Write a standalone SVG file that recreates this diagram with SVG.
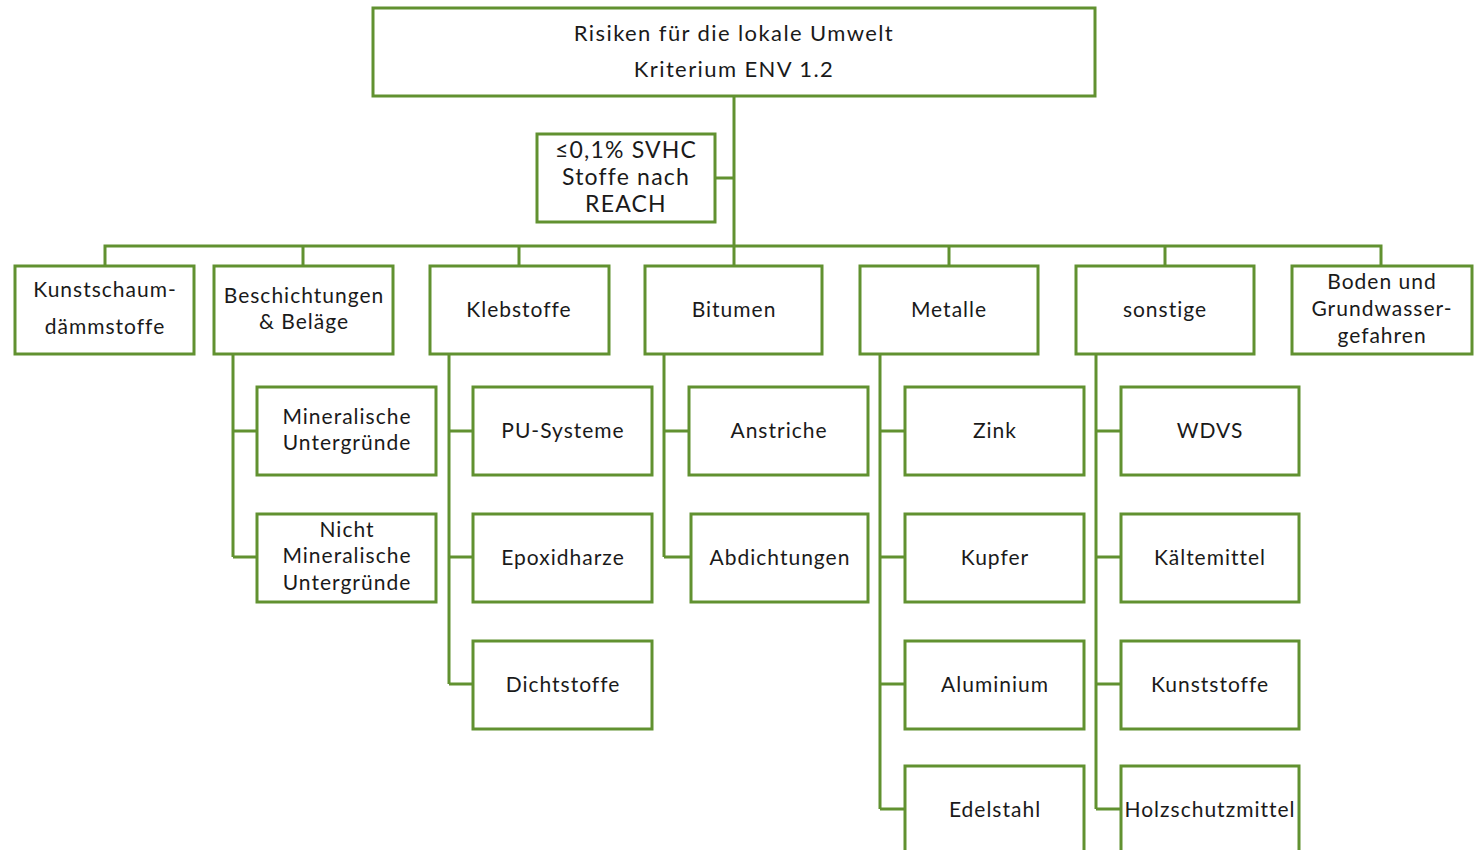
<svg xmlns="http://www.w3.org/2000/svg" width="1474" height="850" viewBox="0 0 1474 850">
<style>
.b{fill:#fff;stroke:#619130;stroke-width:3}
.c{fill:none;stroke:#619130;stroke-width:3}
text{font-family:Lato,"Liberation Sans",sans-serif;font-size:21px;letter-spacing:1px;fill:#1a1a1a;text-anchor:middle}
.t{font-size:22px;letter-spacing:1.4px}
.s{font-size:23px;letter-spacing:1.2px}
</style>
<rect width="1474" height="850" fill="#fff"/>
<g id="connectors">
<path class="c" d="M734 96V246M715 178H734M105 266V246H1381V266M303 246V266M519 246V266M734 246V266M949 246V266M1165 246V266"/>
<path class="c" d="M233 354V557M233 431H257M233 557H257"/>
<path class="c" d="M449 354V684M449 431H473M449 557H473M449 684H473"/>
<path class="c" d="M664 354V557M664 431H689M664 557H691"/>
<path class="c" d="M880 354V809M880 431H905M880 557H905M880 684H905M880 809H905"/>
<path class="c" d="M1096 354V809M1096 431H1121M1096 557H1121M1096 684H1121M1096 809H1121"/>
</g>
<g id="root"><rect class="b" x="373" y="8" width="722" height="88"/><text class="t" x="734" y="41">Risiken für die lokale Umwelt</text><text class="t" x="734" y="77">Kriterium ENV 1.2</text></g>
<g id="svhc"><rect class="b" x="537" y="134" width="178" height="88"/><text class="s" x="626" y="158">≤0,1% SVHC</text><text class="s" x="626" y="185">Stoffe nach</text><text class="s" x="626" y="212">REACH</text></g>
<g id="kunstschaum"><rect class="b" x="15" y="266" width="179" height="88"/><text x="105" y="297">Kunstschaum-</text><text x="105" y="334">dämmstoffe</text></g>
<g id="beschichtungen"><rect class="b" x="214" y="266" width="179" height="88"/><text x="304" y="303">Beschichtungen</text><text x="304" y="329">&amp; Beläge</text></g>
<g id="klebstoffe"><rect class="b" x="430" y="266" width="179" height="88"/><text x="519" y="317">Klebstoffe</text></g>
<g id="bitumen"><rect class="b" x="645" y="266" width="177" height="88"/><text x="734" y="317">Bitumen</text></g>
<g id="metalle"><rect class="b" x="860" y="266" width="178" height="88"/><text x="949" y="317">Metalle</text></g>
<g id="sonstige"><rect class="b" x="1076" y="266" width="178" height="88"/><text x="1165" y="317">sonstige</text></g>
<g id="boden"><rect class="b" x="1292" y="266" width="180" height="88"/><text x="1382" y="289">Boden und</text><text x="1382" y="316">Grundwasser-</text><text x="1382" y="343">gefahren</text></g>
<g id="mineralische"><rect class="b" x="257" y="387" width="179" height="88"/><text x="347" y="424">Mineralische</text><text x="347" y="450">Untergründe</text></g>
<g id="nichtmineralische"><rect class="b" x="257" y="514" width="179" height="88"/><text x="347" y="537">Nicht</text><text x="347" y="563">Mineralische</text><text x="347" y="590">Untergründe</text></g>
<g id="pu"><rect class="b" x="473" y="387" width="179" height="88"/><text x="563" y="438">PU-Systeme</text></g>
<g id="epoxid"><rect class="b" x="473" y="514" width="179" height="88"/><text x="563" y="565">Epoxidharze</text></g>
<g id="dicht"><rect class="b" x="473" y="641" width="179" height="88"/><text x="563" y="692">Dichtstoffe</text></g>
<g id="anstriche"><rect class="b" x="689" y="387" width="179" height="88"/><text x="779" y="438">Anstriche</text></g>
<g id="abdichtungen"><rect class="b" x="691" y="514" width="177" height="88"/><text x="780" y="565">Abdichtungen</text></g>
<g id="zink"><rect class="b" x="905" y="387" width="179" height="88"/><text x="995" y="438">Zink</text></g>
<g id="kupfer"><rect class="b" x="905" y="514" width="179" height="88"/><text x="995" y="565">Kupfer</text></g>
<g id="aluminium"><rect class="b" x="905" y="641" width="179" height="88"/><text x="995" y="692">Aluminium</text></g>
<g id="edelstahl"><rect class="b" x="905" y="766" width="179" height="88"/><text x="995" y="817">Edelstahl</text></g>
<g id="wdvs"><rect class="b" x="1121" y="387" width="178" height="88"/><text x="1210" y="438">WDVS</text></g>
<g id="kaelte"><rect class="b" x="1121" y="514" width="178" height="88"/><text x="1210" y="565">Kältemittel</text></g>
<g id="kunststoffe"><rect class="b" x="1121" y="641" width="178" height="88"/><text x="1210" y="692">Kunststoffe</text></g>
<g id="holz"><rect class="b" x="1121" y="766" width="178" height="88"/><text x="1210" y="817">Holzschutzmittel</text></g>
</svg>
